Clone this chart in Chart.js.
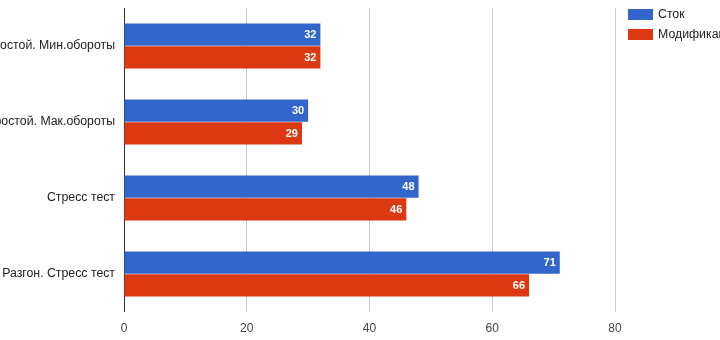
<!DOCTYPE html>
<html><head><meta charset="utf-8">
<script src="https://cdn.jsdelivr.net/npm/chart.js@4"></script>
<style>
html,body{margin:0;padding:0;width:720px;height:340px;overflow:hidden;background:#fff;}
#wrap{position:absolute;left:-40px;top:0;width:800px;height:340px;}
</style></head><body>
<div id="wrap"><canvas id="c" width="800" height="340"></canvas></div>
<script>
const categories = ["Простой. Мин.обороты", "Простой. Мак.обороты", "Стресс тест", "Разгон. Стресс тест"];
const seriesNames = ["Сток", "Модификация"];
const stockValues = [32, 30, 48, 71];
const modValues = [32, 29, 46, 66];
const xTicks = [0, 20, 40, 60, 80];
const colors = ["#3366cc", "#dc3912"];
const FONT = "'Liberation Sans', Arial, sans-serif";

const valueLabels = {
  id: 'valueLabels',
  afterDatasetsDraw(chart) {
    const ctx = chart.ctx;
    ctx.save();
    ctx.font = "bold 11px " + FONT;
    ctx.fillStyle = "#ffffff";
    ctx.textAlign = "right";
    ctx.textBaseline = "middle";
    chart.data.datasets.forEach((ds, i) => {
      chart.getDatasetMeta(i).data.forEach((el, j) => {
        ctx.fillText(String(ds.data[j]), el.x - 4, el.y + 0.5);
      });
    });
    ctx.restore();
  }
};

const customLegend = {
  id: 'customLegend',
  afterDraw(chart) {
    const ctx = chart.ctx;
    ctx.save();
    const x0 = chart.chartArea.right + 13;
    chart.data.datasets.forEach((ds, i) => {
      const y = 9 + i * 20;
      ctx.fillStyle = ds.backgroundColor;
      ctx.fillRect(x0, y, 25, 11);
      ctx.fillStyle = "#222";
      ctx.font = "12.3px " + FONT;
      ctx.textAlign = "left";
      ctx.textBaseline = "middle";
      ctx.fillText(ds.label, x0 + 30, y + 6);
    });
    ctx.restore();
  }
};

new Chart(document.getElementById('c'), {
  type: 'bar',
  data: {
    labels: categories,
    datasets: [
      { label: seriesNames[0], data: stockValues, backgroundColor: colors[0] },
      { label: seriesNames[1], data: modValues, backgroundColor: colors[1] }
    ]
  },
  options: {
    indexAxis: 'y',
    responsive: false,
    animation: false,
    devicePixelRatio: 1,
    layout: { padding: { left: 0, right: 145, top: 8, bottom: 0 } },
    categoryPercentage: 0.6,
    barPercentage: 0.97,
    plugins: { legend: { display: false }, tooltip: { enabled: false } },
    scales: {
      x: {
        min: 0, max: 80,
        afterBuildTicks(scale) { scale.ticks = xTicks.map(v => ({ value: v })); },
        afterFit(scale) { scale.height = 28; scale.paddingLeft = 0; scale.paddingRight = 0; },
        grid: {
          color: ctx => ctx.tick && ctx.tick.value === 0 ? '#333333' : '#cccccc',
          lineWidth: 1,
          drawTicks: false
        },
        border: { display: false },
        ticks: { color: '#444', font: { family: FONT, size: 12 }, padding: 9 }
      },
      y: {
        afterFit(scale) { scale.width = 164; scale.paddingTop = 0; scale.paddingBottom = 0; },
        grid: { display: false, drawTicks: false },
        border: { display: false },
        ticks: { color: '#222', font: { family: FONT, size: 12.3 }, padding: 9 }
      }
    }
  },
  plugins: [valueLabels, customLegend]
});
</script>
</body></html>
